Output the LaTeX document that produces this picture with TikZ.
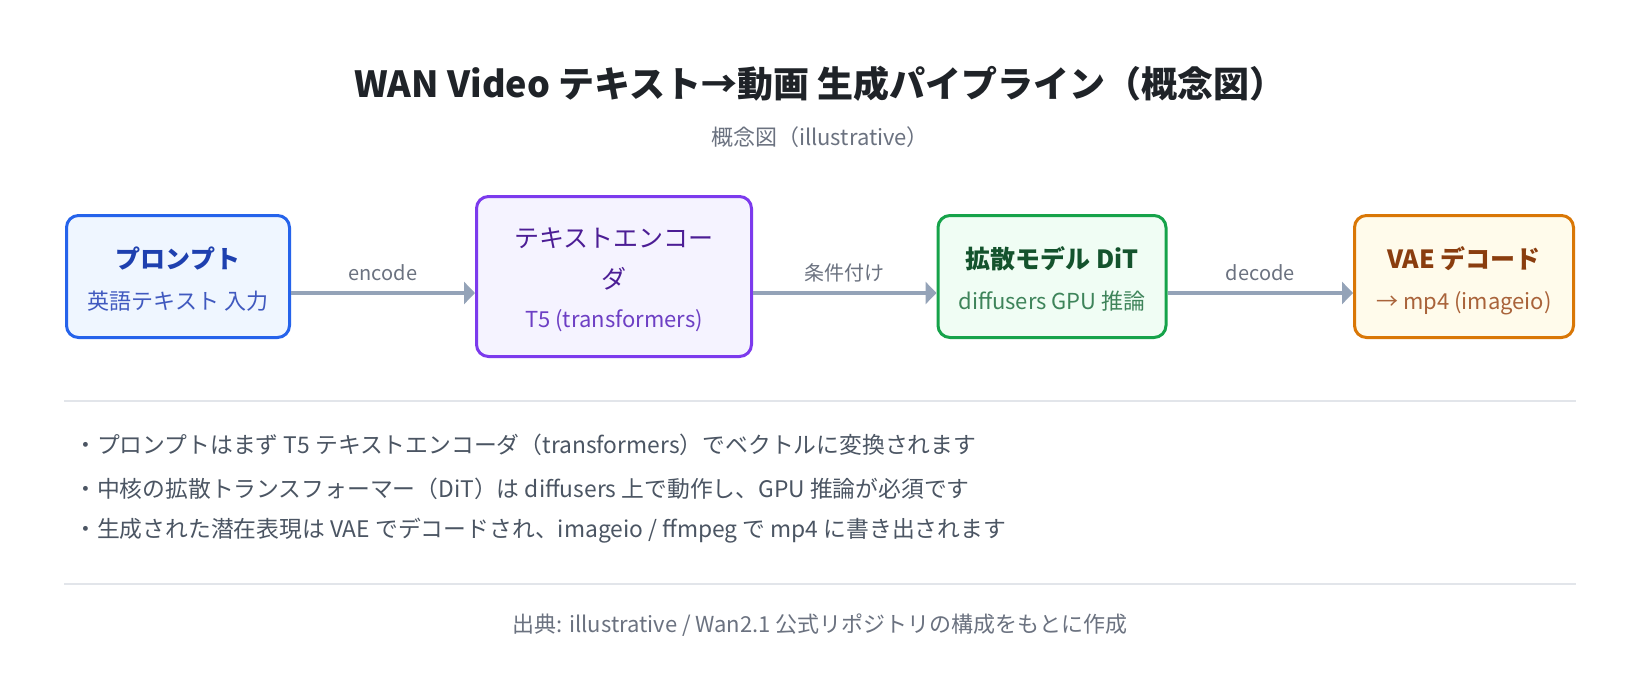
\documentclass[tikz,border=0pt]{standalone}
\usepackage{fontspec}
\setmainfont{Noto Sans CJK JP}
\usetikzlibrary{arrows.meta}
\definecolor{arrowgray}{HTML}{94A3B8}
\definecolor{rulegray}{HTML}{E2E5EA}
\definecolor{textgray}{HTML}{6B7280}
\definecolor{bodygray}{HTML}{4B5563}
\definecolor{titlecol}{HTML}{1F2328}
\definecolor{blueline}{HTML}{2563EB}
\definecolor{bluefill}{HTML}{EFF6FF}
\definecolor{bluehead}{HTML}{1E40AF}
\definecolor{bluesub}{HTML}{4059BF}
\definecolor{purpleline}{HTML}{7C3AED}
\definecolor{purplefill}{HTML}{F5F3FF}
\definecolor{purplehead}{HTML}{4C1D95}
\definecolor{purplesub}{HTML}{6D3FC4}
\definecolor{greenline}{HTML}{16A34A}
\definecolor{greenfill}{HTML}{F0FDF4}
\definecolor{greenhead}{HTML}{14532D}
\definecolor{greensub}{HTML}{3E845A}
\definecolor{orangeline}{HTML}{D97706}
\definecolor{orangefill}{HTML}{FFFBEB}
\definecolor{orangehead}{HTML}{8A3D0E}
\definecolor{orangesub}{HTML}{A9633A}
\tikzset{
stage/.style={draw=#1line, fill=#1fill, line width=3pt, rounded corners=12pt},
stagehead/.style={anchor=base, inner sep=0pt, text=#1head, font=\fontsize{25}{29}\selectfont\bfseries},
stagesub/.style={anchor=base, inner sep=0pt, text=#1sub, font=\fontsize{22}{26}\selectfont},
flow/.style={-{Triangle[length=11pt,width=22pt]}, draw=arrowgray, line width=4pt},
flowlabel/.style={midway, anchor=base, yshift=13pt, inner sep=0pt, text=textgray, font=\fontsize{20}{24}\selectfont},
bullet/.style={anchor=base west, inner sep=0pt, text=bodygray, font=\fontsize{22.8}{27}\selectfont},
divider/.style={draw=rulegray, line width=2pt}
}
\begin{document}
\begin{tikzpicture}[x=1pt,y=-1pt]
\useasboundingbox[fill=white] (0,0) rectangle (1640,680);
\node[anchor=base, inner sep=0pt, text=titlecol, font=\fontsize{36}{42}\selectfont\bfseries] (title) at (820,97) {WAN Video テキスト→動画 生成パイプライン（概念図）};
\node[anchor=base, inner sep=0pt, text=textgray, font=\fontsize{22}{26}\selectfont] (subtitle) at (820,145) {概念図（illustrative）};
\node[stage=blue, minimum width=223pt, minimum height=122pt] (prompt) at (178,276.5) {};
\node[stage=purple, minimum width=275pt, minimum height=160pt] (encoder) at (614,276.5) {};
\node[stage=green, minimum width=228pt, minimum height=122pt] (dit) at (1052,276.5) {};
\node[stage=orange, minimum width=219pt, minimum height=122pt] (vae) at (1464,276.5) {};
\node[stagehead=blue] (prompthead) at ([yshift=8pt]prompt.center) {プロンプト};
\node[stagesub=blue] (promptsub) at ([yshift=-33pt]prompt.center) {英語テキスト 入力};
\node[stagehead=purple, font=\fontsize{25}{29}\selectfont] (encoderhead) at ([yshift=29.5pt]encoder.center) {テキストエンコー};
\node[stagehead=purple, font=\fontsize{25}{29}\selectfont] (encoderhead2) at ([yshift=-12pt]encoder.center) {ダ};
\node[stagesub=purple] (encodersub) at ([yshift=-51pt]encoder.center) {T5 (transformers)};
\node[stagehead=green] (dithead) at ([yshift=8pt]dit.center) {拡散モデル DiT};
\node[stagesub=green] (ditsub) at ([yshift=-33pt]dit.center) {diffusers GPU 推論};
\node[stagehead=orange] (vaehead) at ([yshift=8pt]vae.center) {VAE デコード};
\node[stagesub=orange] (vaesub) at ([yshift=-33pt]vae.center) {→ mp4 (imageio)};
\coordinate (flowrow) at (0,293);
\draw[flow] (prompt.east |- flowrow) -- (encoder.west |- flowrow) node[flowlabel] {encode};
\draw[flow] (encoder.east |- flowrow) -- (dit.west |- flowrow) node[flowlabel] {条件付け};
\draw[flow] (dit.east |- flowrow) -- (vae.west |- flowrow) node[flowlabel] {decode};
\coordinate (rule1a) at (64,400.5);
\coordinate (rule1b) at (1576,400.5);
\draw[divider] (rule1a) -- (rule1b);
\node[bullet] (note1) at (74,453) {・プロンプトはまず T5 テキストエンコーダ（transformers）でベクトルに変換されます};
\node[bullet] (note2) at (74,497) {・中核の拡散トランスフォーマー（DiT）は diffusers 上で動作し、GPU 推論が必須です};
\node[bullet] (note3) at (74,537) {・生成された潜在表現は VAE でデコードされ、imageio / ffmpeg で mp4 に書き出されます};
\coordinate (rule2a) at (64,584);
\coordinate (rule2b) at (1576,584);
\draw[divider] (rule2a) -- (rule2b);
\node[anchor=base, inner sep=0pt, text=textgray, font=\fontsize{22}{26}\selectfont] (source) at (820,632) {出典: illustrative / Wan2.1 公式リポジトリの構成をもとに作成};
\end{tikzpicture}
\end{document}
